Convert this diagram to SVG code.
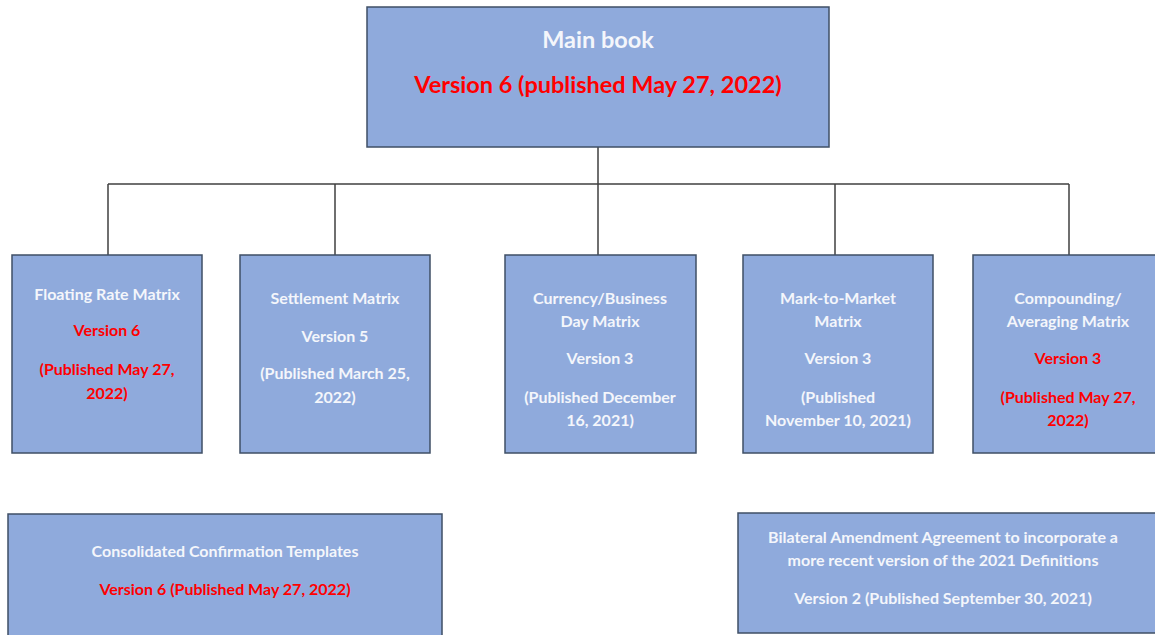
<svg xmlns="http://www.w3.org/2000/svg" width="1155" height="635" viewBox="0 0 1155 635">
<style>
.box{fill:#8faadc;stroke:#3f4f66;stroke-width:1.5}
.t{font-family:Lato,"Open Sans",sans-serif;font-weight:bold;font-size:16px;fill:#f4f6fb;text-anchor:middle}
.r{fill:#ff0000}
.big{font-size:23.5px}
.conn{stroke:#404040;stroke-width:1.5;fill:none}
</style>
<rect width="1155" height="635" fill="#ffffff"/>
<g id="connectors">
<path class="conn" d="M598 147V184M108 184H1069M108 184V255M335 184V255M598 184V255M835 184V255M1069 184V255"/>
</g>
<g id="main">
<rect class="box" x="367" y="7" width="462" height="140"/>
<text class="t big" x="598" y="48">Main book</text>
<text class="t big r" x="598" y="93">Version 6 (published May 27, 2022)</text>
</g>
<g id="floating">
<rect class="box" x="12" y="255" width="190" height="198"/>
<text class="t" x="107" y="300">Floating Rate Matrix</text>
<text class="t r" x="107" y="336">Version 6</text>
<text class="t r" x="107" y="375">(Published May 27,</text>
<text class="t r" x="107" y="399">2022)</text>
</g>
<g id="settlement">
<rect class="box" x="240" y="255" width="190" height="198"/>
<text class="t" x="335" y="304">Settlement Matrix</text>
<text class="t" x="335" y="342">Version 5</text>
<text class="t" x="335" y="379">(Published March 25,</text>
<text class="t" x="335" y="403">2022)</text>
</g>
<g id="currency">
<rect class="box" x="505" y="255" width="191" height="198"/>
<text class="t" x="600" y="304">Currency/Business</text>
<text class="t" x="600" y="327">Day Matrix</text>
<text class="t" x="600" y="364">Version 3</text>
<text class="t" x="600" y="403">(Published December</text>
<text class="t" x="600" y="426">16, 2021)</text>
</g>
<g id="mtm">
<rect class="box" x="743" y="255" width="190" height="198"/>
<text class="t" x="838" y="304">Mark-to-Market</text>
<text class="t" x="838" y="327">Matrix</text>
<text class="t" x="838" y="364">Version 3</text>
<text class="t" x="838" y="403">(Published</text>
<text class="t" x="838" y="426">November 10, 2021)</text>
</g>
<g id="compounding">
<rect class="box" x="973" y="255" width="190" height="198"/>
<text class="t" x="1068" y="304">Compounding/</text>
<text class="t" x="1068" y="327">Averaging Matrix</text>
<text class="t r" x="1068" y="364">Version 3</text>
<text class="t r" x="1068" y="403">(Published May 27,</text>
<text class="t r" x="1068" y="426">2022)</text>
</g>
<g id="templates">
<rect class="box" x="8" y="514" width="434" height="130"/>
<text class="t" x="225" y="557">Consolidated Confirmation Templates</text>
<text class="t r" x="225" y="595">Version 6 (Published May 27, 2022)</text>
</g>
<g id="bilateral">
<rect class="box" x="738" y="513" width="430" height="120"/>
<text class="t" x="943" y="543">Bilateral Amendment Agreement to incorporate a</text>
<text class="t" x="943" y="566">more recent version of the 2021 Definitions</text>
<text class="t" x="943" y="604">Version 2 (Published September 30, 2021)</text>
</g>
</svg>
